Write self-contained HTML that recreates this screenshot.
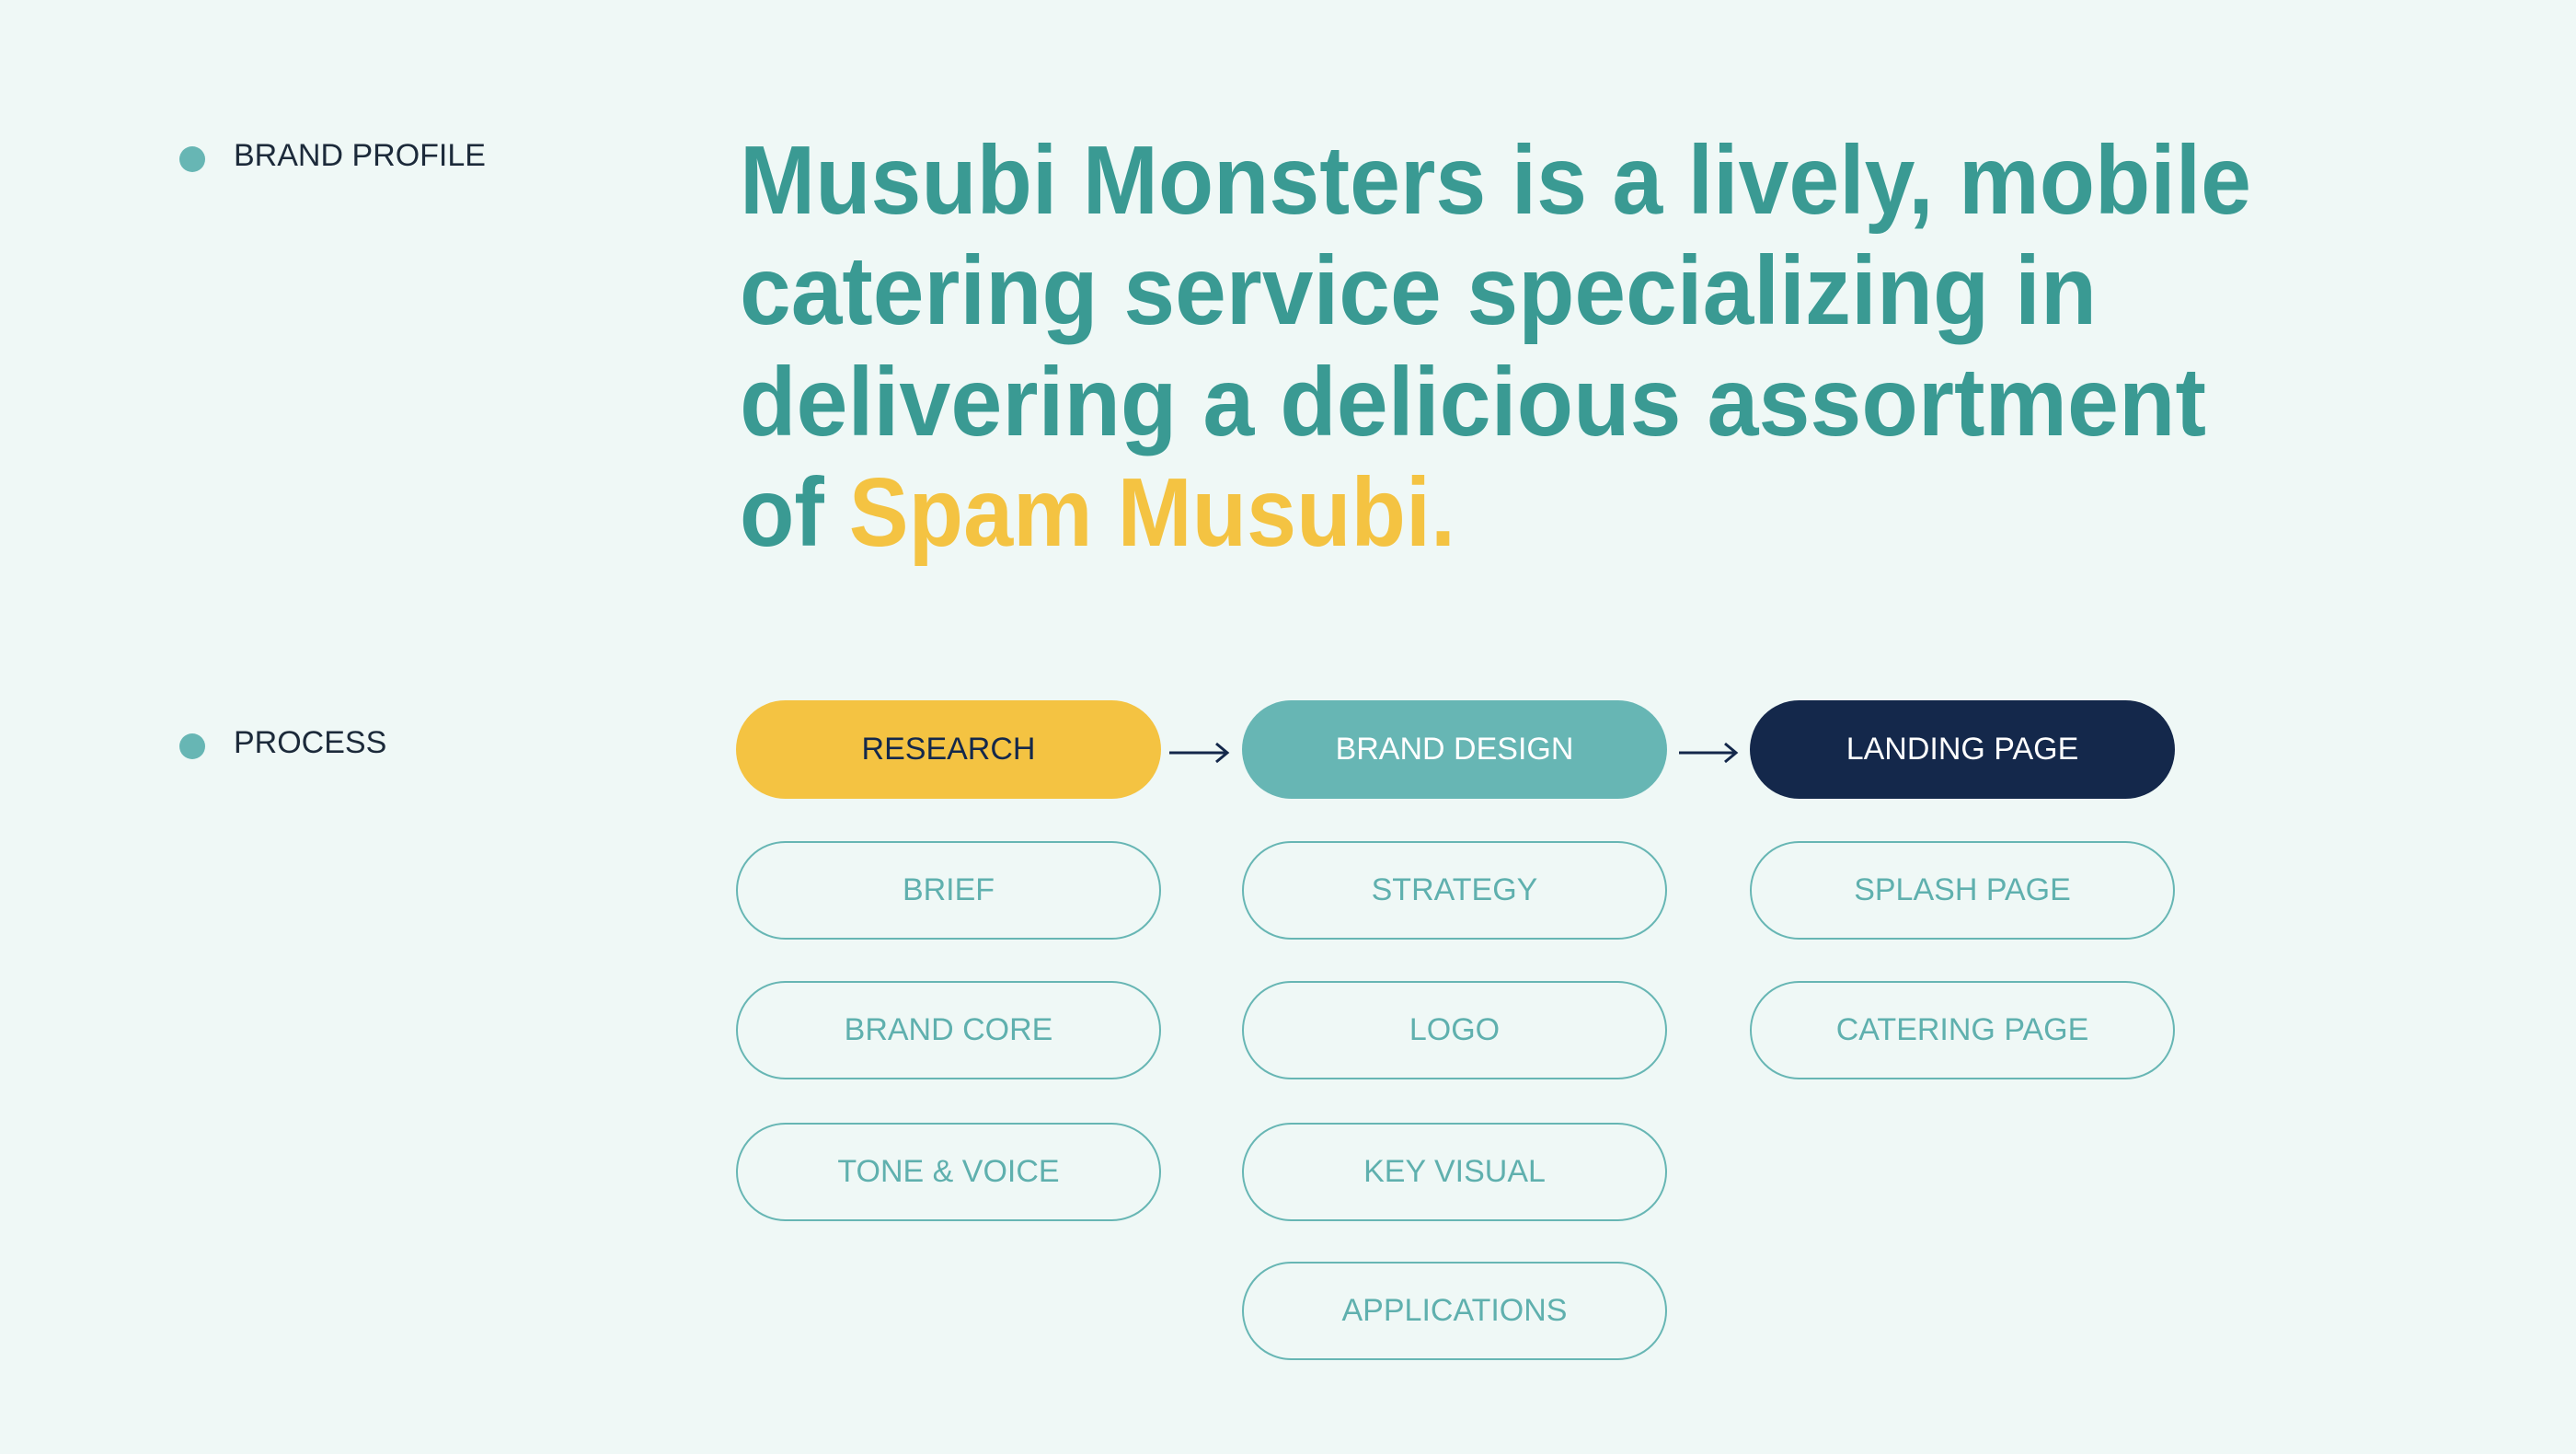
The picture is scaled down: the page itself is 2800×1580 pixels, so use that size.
<!DOCTYPE html>
<html><head><meta charset="utf-8"><style>
body{margin:0;width:2800px;height:1580px;background:#eff8f6;position:relative;overflow:hidden;font-family:"Liberation Sans",sans-serif}
.dot{position:absolute;width:28px;height:28px;border-radius:50%;background:#67b6b4}
.lbl{position:absolute;font-size:34px;color:#1c2a3a}
.pill{position:absolute;width:462px;height:107px;box-sizing:border-box;border-radius:54px;display:flex;align-items:center;justify-content:center;font-size:34px}
.o{border:2px solid #67b6b4;color:#5fb0ae}
svg{position:absolute;left:0;top:0}
</style></head><body>
<div class="dot" style="left:195px;top:159px"></div>
<div class="lbl" style="left:254px;top:150px">BRAND PROFILE</div>
<div class="dot" style="left:195px;top:797px"></div>
<div class="lbl" style="left:254px;top:788px">PROCESS</div>
<svg width="2800" height="1580">
<g font-family="Liberation Sans, sans-serif" font-size="106" font-weight="bold" fill="#3a9a93">
<text x="804" y="232" textLength="1643" lengthAdjust="spacingAndGlyphs">Musubi Monsters is a lively, mobile</text>
<text x="804" y="352" textLength="1475" lengthAdjust="spacingAndGlyphs">catering service specializing in</text>
<text x="804" y="473" textLength="1594" lengthAdjust="spacingAndGlyphs">delivering a delicious assortment</text>
<text x="804" y="593" textLength="778" lengthAdjust="spacingAndGlyphs">of <tspan fill="#f4c342">Spam Musubi.</tspan></text>
</g>
<g stroke="#14284b" stroke-width="3" fill="none">
<line x1="1271" y1="818" x2="1334" y2="818"/><polyline points="1322,808 1334,818 1322,828"/>
<line x1="1825" y1="818" x2="1887" y2="818"/><polyline points="1875,808 1887,818 1875,828"/>
</g>
</svg>
<div class="pill" style="left:800px;top:761px;background:#f4c342;color:#14284b">RESEARCH</div>
<div class="pill" style="left:1350px;top:761px;background:#67b6b4;color:#fff">BRAND DESIGN</div>
<div class="pill" style="left:1902px;top:761px;background:#14284b;color:#fff">LANDING PAGE</div>
<div class="pill o" style="left:800px;top:914px">BRIEF</div>
<div class="pill o" style="left:800px;top:1066px">BRAND CORE</div>
<div class="pill o" style="left:800px;top:1220px">TONE &amp; VOICE</div>
<div class="pill o" style="left:1350px;top:914px">STRATEGY</div>
<div class="pill o" style="left:1350px;top:1066px">LOGO</div>
<div class="pill o" style="left:1350px;top:1220px">KEY VISUAL</div>
<div class="pill o" style="left:1350px;top:1371px">APPLICATIONS</div>
<div class="pill o" style="left:1902px;top:914px">SPLASH PAGE</div>
<div class="pill o" style="left:1902px;top:1066px">CATERING PAGE</div>
</body></html>
